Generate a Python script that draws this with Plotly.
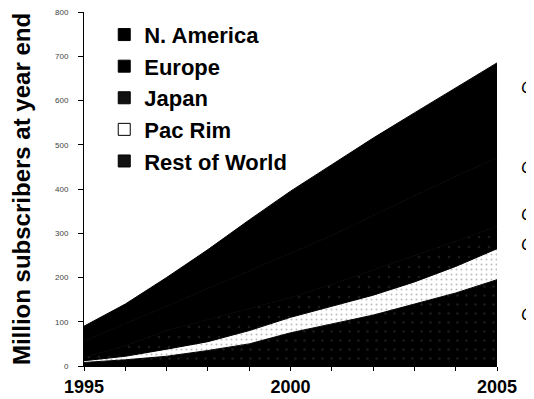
import plotly.graph_objects as go

# ---- data (million subscribers at year end) ----
years = list(range(1995, 2006))
rest_of_world = [8, 14, 22, 35, 50, 75, 95, 115, 140, 165, 195]
pac_rim = [4, 8, 16, 20, 30, 35, 40, 45, 50, 60, 70]
japan = [8, 23, 42, 50, 50, 45, 50, 58, 60, 57, 50]
europe = [36, 50, 55, 70, 85, 100, 110, 122, 135, 146, 155]
n_america = [34, 45, 65, 88, 115, 140, 160, 175, 187, 200, 215]

legend_names = ["N. America", "Europe", "Japan", "Pac Rim", "Rest of World"]
x_tick_labels = ["1995", "", "", "", "", "2000", "", "", "", "", "2005"]
y_tick_vals = [0, 100, 200, 300, 400, 500, 600, 700, 800]
right_labels = ["C", "C", "C", "C", "C"]
right_label_vals = [630, 448, 342, 275, 117]

FONT = "Arial, Liberation Sans, Helvetica, sans-serif"

fig = go.Figure()

# stacked areas, bottom to top
stack = [
    ("Rest of World", rest_of_world, "#000000",
     dict(shape=".", fgcolor="#3a3a3a", bgcolor="#000000", size=9, solidity=0.06)),
    ("Pac Rim", pac_rim, "#ffffff",
     dict(shape=".", fgcolor="#777777", bgcolor="#ffffff", size=5, solidity=0.12)),
    ("Japan", japan, "#000000",
     dict(shape=".", fgcolor="#333333", bgcolor="#000000", size=10, solidity=0.05)),
    ("Europe", europe, "#000000", None),
    ("N. America", n_america, "#000000", None),
]
for name, vals, col, patt in stack:
    kw = {}
    if patt is not None:
        kw["fillpattern"] = patt
    fig.add_trace(go.Scatter(
        x=years, y=vals, name=name, stackgroup="one",
        mode="lines", line=dict(width=1, color="#000000"),
        fillcolor=col, showlegend=False, hoverinfo="skip", **kw))

# legend entries (square swatches)
swatch = {
    "N. America": ("#000000", "#000000"),
    "Europe": ("#000000", "#000000"),
    "Japan": ("#111111", "#000000"),
    "Pac Rim": ("#ffffff", "#000000"),
    "Rest of World": ("#111111", "#000000"),
}
for name in legend_names:
    fc, lc = swatch[name]
    fig.add_trace(go.Scatter(
        x=[None], y=[None], mode="markers", name=name,
        marker=dict(symbol="square", size=12, color=fc,
                    line=dict(width=1, color=lc))))

# truncated right-side labels
for t, v in zip(right_labels, right_label_vals):
    fig.add_annotation(
        x=1.056, xref="paper", y=v, yref="y", text="<i>" + t + "</i>",
        showarrow=False, xanchor="left", yanchor="middle", borderpad=0,
        font=dict(family=FONT, size=17, color="#000000"))

# (page body has an 8px margin; figure is sized so the plot area lands
#  at the same window position as in the reference)
fig.update_layout(
    width=526, height=391,
    margin=dict(l=76, r=37, t=4, b=33),
    paper_bgcolor="white", plot_bgcolor="white",
    font=dict(family=FONT, color="#000000"),
    showlegend=True,
    legend=dict(x=0.049, y=0.995, xanchor="left", yanchor="top",
                bgcolor="rgba(0,0,0,0)", borderwidth=0,
                font=dict(family=FONT, size=22, color="#000000", weight="bold"),
                tracegroupgap=0, itemwidth=30, traceorder="normal"),
    xaxis=dict(range=[1995, 2005], tickmode="array", tickvals=years,
               ticktext=x_tick_labels, ticks="outside", ticklen=4,
               tickcolor="#000000", showline=True, linecolor="#000000",
               linewidth=1, showgrid=False, zeroline=False, automargin=False,
               ticklabeloverflow="allow",
               tickfont=dict(family=FONT, size=18, color="#000000",
                             weight="bold")),
    yaxis=dict(range=[0, 800], tickmode="array", tickvals=y_tick_vals,
               ticks="outside", ticklen=5, tickcolor="#000000",
               showline=True, linecolor="#000000", linewidth=1,
               showgrid=False, zeroline=False, ticklabelstandoff=8,
               automargin=False, ticklabeloverflow="allow",
               tickfont=dict(family=FONT, size=8, color="#444444"),
               title=dict(text="<b>Million subscribers at year end</b>",
                          standoff=23,
                          font=dict(family=FONT, size=24, color="#000000"))),
)

fig.write_html("out.html")
